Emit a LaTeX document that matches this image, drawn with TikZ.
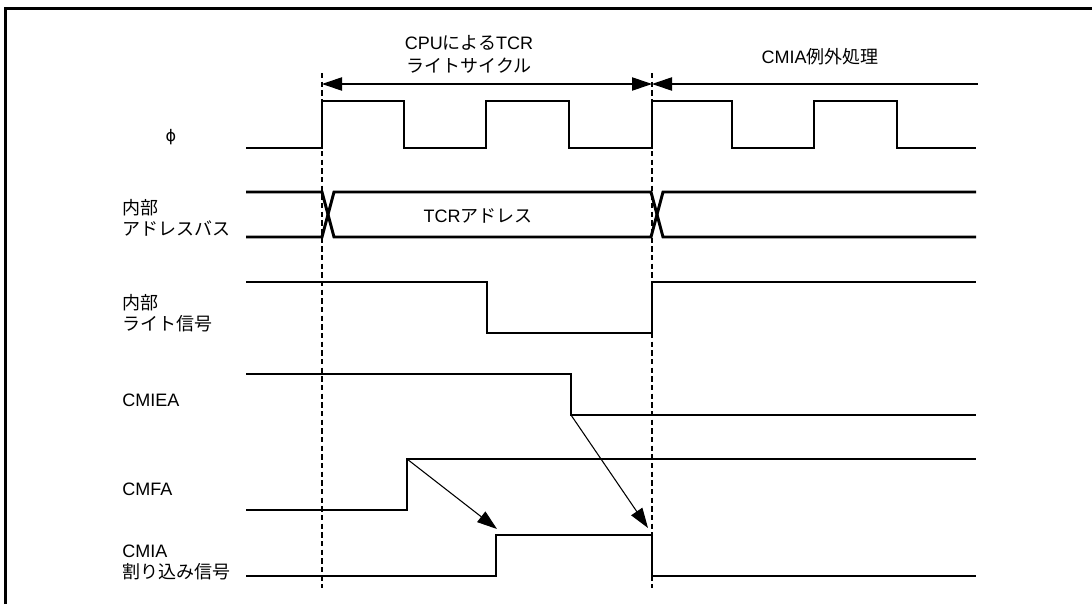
\documentclass[tikz,border=0pt]{standalone}
\usepackage{fontspec}
\setmainfont{Liberation Sans}
\newfontfamily\jp{Noto Sans CJK JP}
\newfontfamily\dvs{DejaVu Sans}
\usetikzlibrary{arrows.meta}
\begin{document}
\begin{tikzpicture}[x=0.75pt,y=-0.75pt,
  sig/.style={line width=2.2pt,line join=miter},
  thin/.style={line width=0.8pt},
  guide/.style={line width=0.8pt,dash pattern=on 4pt off 2.5pt},
  tip/.style={-{Triangle[length=15pt,width=10pt]}},
  lbl/.style={anchor=west,align=left,inner sep=0pt,font=\fontsize{13.5}{15.75}\selectfont},
  ttl/.style={align=center,inner sep=0pt,font=\fontsize{13.5}{17.25}\selectfont}]
\useasboundingbox (0,0) rectangle (1092,604);
% frame (top and left edges)
\draw[line width=2.4pt] (5.5,604) -- (5.5,8.5) -- (1092,8.5);
% guides
\draw[guide] (322,73) -- (322,588);
\draw[guide] (652,73) -- (652,588);
% interval arrows
\coordinate (a0) at (322,84);
\coordinate (a1) at (652,84);
\coordinate (a2) at (978,84);
\draw[thin,{Triangle[length=15pt,width=10pt]}-{Triangle[length=15pt,width=10pt]}] (a0) -- (a1);
\draw[thin,{Triangle[length=15pt,width=10pt]}-] (a1) -- (a2);
\node[ttl] (t1) at (469,54.5) {CPU{\jp による}TCR\\{\jp ライトサイクル}};
\node[ttl] (t2) at (820,57) {CMIA{\jp 例外処理}};
% labels
\node[inner sep=0pt] (lphi) at (171,137) {\dvs\fontsize{12}{14}\selectfont ϕ};
\node[lbl] (lab) at (122,218) {{\jp 内部}\\{\jp アドレスバス}};
\node[lbl] (lwr) at (122,313) {{\jp 内部}\\{\jp ライト信号}};
\node[lbl] (lie) at (122,400) {CMIEA};
\node[lbl] (lfa) at (122,489) {CMFA};
\node[lbl] (lia) at (122,562) {CMIA\\{\jp 割り込み信号}};
% phi clock
\draw[sig] (246,148) -- (322,148) -- (322,101) -- (404,101) -- (404,148) -- (486,148) -- (486,101)
  -- (569,101) -- (569,148) -- (652,148) -- (652,101) -- (732,101) -- (732,148) -- (814,148)
  -- (814,101) -- (897,101) -- (897,148) -- (976,148);
% address bus
\draw[sig] (246,192) -- (322,192) -- (334,237) -- (651,237) -- (663,192) -- (976,192);
\draw[sig] (246,237) -- (322,237) -- (334,192) -- (651,192) -- (663,237) -- (976,237);
\node[inner sep=0pt,font=\fontsize{13.5}{15}\selectfont] (tcra) at (478,216) {TCR{\jp アドレス}};
% internal write
\draw[sig] (246,282) -- (487,282) -- (487,333) -- (652,333) -- (652,282) -- (976,282);
% CMIEA
\draw[sig] (246,374) -- (571,374) -- (571,415) -- (976,415);
\coordinate (ie) at (571,415);
% CMFA
\draw[sig] (246,510) -- (407,510) -- (407,459) -- (976,459);
\coordinate (fa) at (407,459);
% CMIA
\draw[sig] (246,576) -- (496,576) -- (496,535) -- (652,535) -- (652,576) -- (976,576);
\coordinate (ia1) at (497,529);
\coordinate (ia2) at (648,528);
% causal arrows
\draw[thin,tip] (fa) -- (ia1);
\draw[thin,tip] (ie) -- (ia2);
\end{tikzpicture}
\end{document}
